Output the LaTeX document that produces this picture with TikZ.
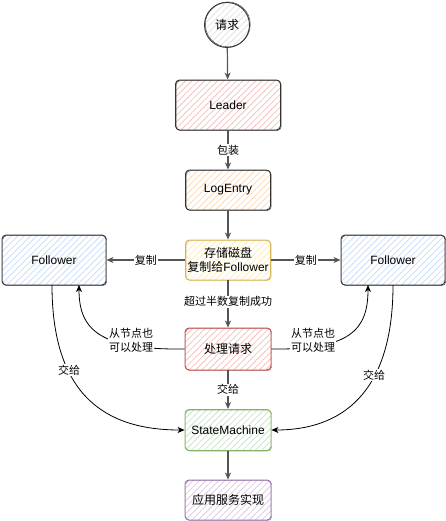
\documentclass[tikz,border=0pt]{standalone}
\usepackage{fontspec}
\setmainfont{Liberation Sans}
\newfontfamily\cjk{Noto Sans CJK SC}
\usetikzlibrary{arrows.meta,patterns.meta}
\definecolor{redF}{HTML}{F6C2BF}
\definecolor{orangeF}{HTML}{FFD9B3}
\definecolor{yellowF}{HTML}{FFEDB5}
\definecolor{blueF}{HTML}{CADEF9}
\definecolor{greenF}{HTML}{CCE4CA}
\definecolor{purpleF}{HTML}{DCCDE3}
\definecolor{grayF}{HTML}{E2E2E2}
\definecolor{yellowS}{HTML}{D6B656}
\definecolor{redS}{HTML}{B85450}
\definecolor{greenS}{HTML}{82B366}
\definecolor{purpleS}{HTML}{9673A6}
\definecolor{darkS}{HTML}{333333}
\definecolor{arrowC}{HTML}{555555}
\tikzset{
  hatch/.style={pattern={Lines[angle=45,distance=4.5pt,line width=0.8pt]},pattern color=#1},
  box/.style={draw=darkS, line width=0.9pt, rounded corners=4pt, font=\fontsize{12}{14}\selectfont, align=center, inner sep=0pt,
    postaction={draw=#1, line width=0.4pt, rounded corners=4pt, transform canvas={shift={(0.7pt,-0.6pt)}}}},
  flow/.style={draw=arrowC, line width=1.2pt, -{Stealth[length=7pt,width=6pt,inset=2pt]}},
  curve/.style={draw=black, line width=0.8pt, -{Stealth[length=7pt,width=6pt,inset=2pt]}},
  lbl/.style={fill=white, inner sep=1pt, font=\fontsize{11}{14}\selectfont\cjk, align=center},
}
\begin{document}
\begin{tikzpicture}[x=1pt,y=-1pt]
\useasboundingbox (0,0) rectangle (446,521);
\node[circle, draw=darkS, line width=0.9pt, hatch=grayF, minimum size=45pt, inner sep=0pt, font=\fontsize{12}{14}\selectfont\cjk,
  postaction={draw=darkS, line width=0.4pt, transform canvas={shift={(0.8pt,0.6pt)}}}] (req) at (227,25) {请求};
\node[box=darkS, hatch=redF, minimum width=105pt, minimum height=50pt] (leader) at (228,105) {Leader};
\node[box=darkS, hatch=orangeF, minimum width=85pt, minimum height=40pt] (log) at (228,190) {LogEntry};
\node[box=yellowS, draw=yellowS, hatch=yellowF, minimum width=85pt, minimum height=40pt] (store) at (228,260) {{\cjk 存储磁盘}\\{\cjk 复制给}Follower};
\node[box=darkS, hatch=blueF, minimum width=104pt, minimum height=50pt] (fl) at (54,260) {Follower};
\node[box=darkS, hatch=blueF, minimum width=104pt, minimum height=50pt] (fr) at (393,260) {Follower};
\node[box=redS, draw=redS, hatch=redF, minimum width=86pt, minimum height=42pt] (proc) at (228,349) {\cjk 处理请求};
\node[box=greenS, draw=greenS, hatch=greenF, minimum width=86pt, minimum height=41pt] (sm) at (228,430) {StateMachine};
\node[box=purpleS, draw=purpleS, hatch=purpleF, minimum width=86pt, minimum height=40pt] (app) at (228,500) {\cjk 应用服务实现};

\coordinate (flb1) at (52,285);
\coordinate (flb2) at (79,285);
\coordinate (frb1) at (393,285);
\coordinate (frb2) at (368,285);

\draw[flow] (req) -- (leader);
\draw[flow] (leader) -- node[lbl]{包装} (log);
\draw[flow] (log) -- (store);
\draw[flow] (store) -- node[lbl]{复制} (fl);
\draw[flow] (store) -- node[lbl]{复制} (fr);
\draw[flow] (store) -- node[lbl, pos=0.45]{超过半数复制成功} (proc);
\draw[flow] (proc) -- node[lbl]{交给} (sm);
\draw[flow] (sm) -- (app);

\draw[curve] (flb1) .. controls (52,395) and (105,430) .. (sm.west);
\node[lbl] (l1) at (69,370) {交给};
\draw[curve] (frb1) .. controls (393,395) and (340,430) .. (sm.east);
\node[lbl] (l2) at (374,375) {交给};
\draw[curve] (proc.west) .. controls (100,350) and (79,330) .. (flb2);
\node[lbl] (l3) at (131,340) {从节点也\\可以处理};
\draw[curve] (proc.east) .. controls (350,350) and (368,330) .. (frb2);
\node[lbl] (l4) at (313,340) {从节点也\\可以处理};
\end{tikzpicture}
\end{document}
